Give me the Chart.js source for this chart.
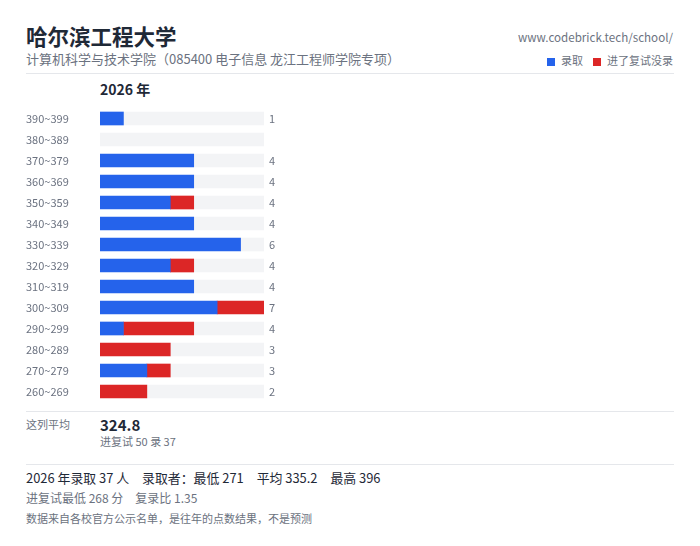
<!DOCTYPE html>
<html>
<head>
<meta charset="utf-8">
<script src="https://cdn.jsdelivr.net/npm/chart.js@4"></script>
<style>
  body { margin: 0; background: #fff; font-family: "Noto Sans CJK SC", "Noto Sans", sans-serif; }
  #wrap { position: relative; width: 700px; height: 546px; }
  .t { position: absolute; white-space: nowrap; line-height: 1; }
  .hr { position: absolute; left: 26px; width: 648px; height: 1px; background: #e5e7eb; }
  .sq { display: inline-block; width: 8px; height: 8px; vertical-align: -1px; margin-right: 6px; }
  #chartBox { position: absolute; left: 26px; top: 108px; width: 270px; height: 294px; }
</style>
</head>
<body>
<div id="wrap">
  <div class="t" style="left:26px;top:25px;font-size:21.5px;font-weight:bold;color:#1f2937;">哈尔滨工程大学</div>
  <div class="t" style="left:26px;top:52px;font-size:13px;color:#6b7280;">计算机科学与技术学院（085400 电子信息 龙江工程师学院专项）</div>
  <div class="t" style="right:27px;top:32px;font-size:11.6px;color:#6b7280;">www.codebrick.tech/school/</div>
  <div class="t" style="right:27px;top:55px;font-size:11px;color:#6b7280;">
    <span class="sq" style="background:#2563eb;"></span>录取<span style="display:inline-block;width:10px;"></span><span class="sq" style="background:#dc2626;"></span>进了复试没录
  </div>
  <div class="hr" style="top:73px;"></div>
  <div class="t" style="left:100px;top:82px;font-size:14px;font-weight:bold;color:#1f2937;">2026 年</div>

  <div id="chartBox"><canvas id="chart"></canvas></div>

  <div class="hr" style="top:411px;"></div>
  <div class="t" style="left:26px;top:419px;font-size:11px;color:#6b7280;">这列平均</div>
  <div class="t" style="left:100px;top:417px;font-size:15px;font-weight:bold;color:#1f2937;">324.8</div>
  <div class="t" style="left:100px;top:436px;font-size:11px;color:#6b7280;">进复试 50 录 37</div>

  <div class="hr" style="top:464px;"></div>
  <div class="t" style="left:26px;top:472px;font-size:12.9px;color:#1f2937;">2026 年录取 37 人　录取者：最低 271　平均 335.2　最高 396</div>
  <div class="t" style="left:26px;top:492px;font-size:12px;color:#6b7280;">进复试最低 268 分　复录比 1.35</div>
  <div class="t" style="left:26px;top:513px;font-size:11px;color:#6b7280;">数据来自各校官方公示名单，是往年的点数结果，不是预测</div>
</div>

<script>
const ranges = ["390~399", "380~389", "370~379", "360~369", "350~359", "340~349", "330~339",
                "320~329", "310~319", "300~309", "290~299", "280~289", "270~279", "260~269"];
const admitted = [1, 0, 4, 4, 3, 4, 6, 3, 4, 5, 1, 0, 2, 0];
const notAdmitted = [0, 0, 0, 0, 1, 0, 0, 1, 0, 2, 3, 3, 1, 2];
const maxCount = 7;

const totals = admitted.map((v, i) => v + notAdmitted[i]);
const rest = totals.map(t => maxCount - t);

// draw the count to the right of each track
const countLabels = {
  id: 'countLabels',
  afterDatasetsDraw(chart) {
    const ctx = chart.ctx;
    const meta = chart.getDatasetMeta(2);
    ctx.save();
    ctx.font = '11px "Noto Sans CJK SC", sans-serif';
    ctx.fillStyle = '#6b7280';
    ctx.textBaseline = 'middle';
    ctx.textAlign = 'left';
    meta.data.forEach((bar, i) => {
      if (totals[i] > 0) ctx.fillText(totals[i], chart.chartArea.right + 5, bar.y);
    });
    ctx.restore();
  }
};

new Chart(document.getElementById('chart'), {
  type: 'bar',
  data: {
    labels: ranges,
    datasets: [
      { label: '录取', data: admitted.map(v => v || null), backgroundColor: '#2563eb' },
      { label: '进了复试没录', data: notAdmitted.map(v => v || null), backgroundColor: '#dc2626' },
      { label: 'track', data: rest, backgroundColor: '#f3f4f6' }
    ]
  },
  options: {
    indexAxis: 'y',
    responsive: true,
    maintainAspectRatio: false,
    animation: false,
    datasets: { bar: { barThickness: 13, borderWidth: 0, borderSkipped: false } },
    layout: { padding: { left: 0, right: 32, top: 0, bottom: 0 } },
    plugins: { legend: { display: false }, tooltip: { enabled: false } },
    scales: {
      x: { stacked: true, min: 0, max: maxCount, display: false },
      y: {
        stacked: true,
        grid: { display: false },
        border: { display: false },
        afterFit(scale) {
          scale.width = 74;
          scale.paddingTop = 0;
          scale.paddingBottom = 0;
        },
        ticks: {
          crossAlign: 'far',
          padding: 0,
          color: '#6b7280',
          font: { size: 11, family: '"Noto Sans CJK SC", sans-serif' }
        }
      }
    }
  },
  plugins: [countLabels]
});
</script>
</body>
</html>
